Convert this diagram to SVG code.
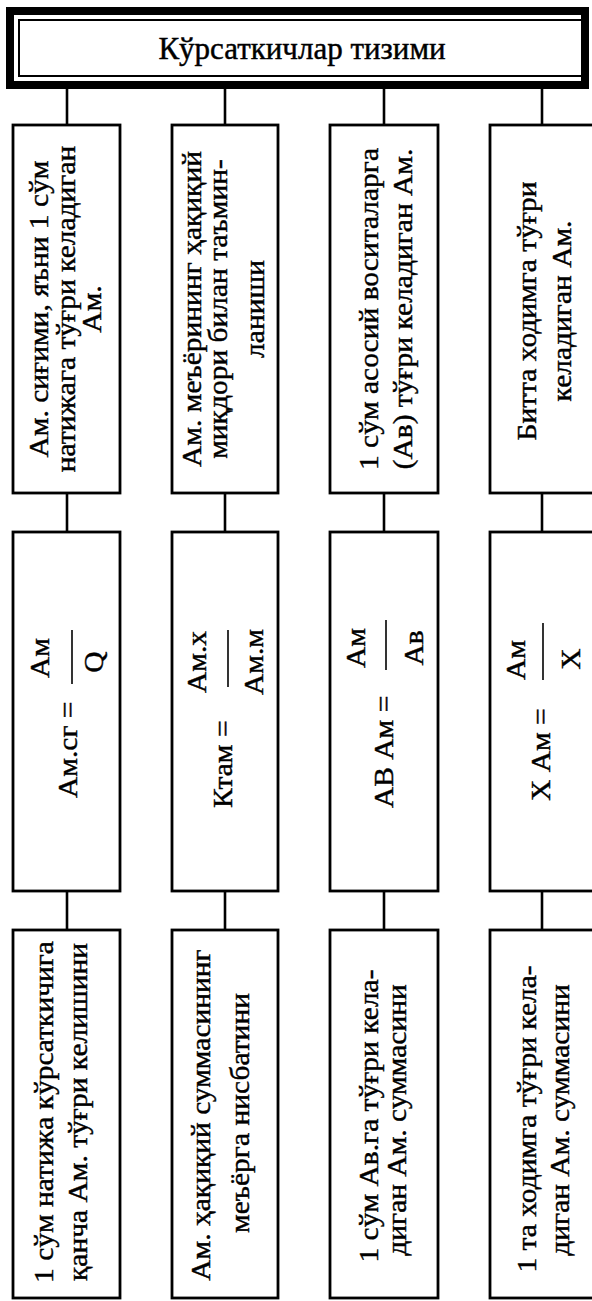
<svg xmlns="http://www.w3.org/2000/svg" width="592" height="1301" viewBox="0 0 592 1301">
<style>
.box{fill:#fff;stroke:#000;stroke-width:2.8}
.con{stroke:#000;stroke-width:2.6;fill:none}
.bar{stroke:#000;stroke-width:1.6}
.t{font-family:"Liberation Serif","Times New Roman",serif;font-size:29.5px;fill:#000;stroke:#000;stroke-width:0.45}
.m{text-anchor:middle}
.title{font-family:"Liberation Serif","Times New Roman",serif;font-size:31px;fill:#000;stroke:#000;stroke-width:0.45;text-anchor:middle}
</style>
<rect width="592" height="1301" fill="#fff"/>
<g id="connectors">
<line class="con" x1="67" y1="89" x2="67" y2="125"/>
<line class="con" x1="225" y1="89" x2="225" y2="125"/>
<line class="con" x1="384" y1="89" x2="384" y2="125"/>
<line class="con" x1="542" y1="89" x2="542" y2="125"/>
<line class="con" x1="67" y1="493" x2="67" y2="532"/>
<line class="con" x1="225" y1="493" x2="225" y2="532"/>
<line class="con" x1="384" y1="493" x2="384" y2="532"/>
<line class="con" x1="542" y1="493" x2="542" y2="532"/>
<line class="con" x1="67" y1="891" x2="67" y2="930"/>
<line class="con" x1="225" y1="891" x2="225" y2="930"/>
<line class="con" x1="384" y1="891" x2="384" y2="930"/>
<line class="con" x1="542" y1="891" x2="542" y2="930"/>
</g>
<g id="title">
<rect x="10" y="11" width="575" height="74" fill="#fff" stroke="#000" stroke-width="8"/>
<rect x="19" y="20" width="564" height="56" fill="none" stroke="#000" stroke-width="2"/>
<text class="title" x="302" y="59">Кўрсаткичлар тизими</text>
</g>
<g id="r1c1">
<rect class="box" x="13" y="125" width="107" height="368"/>
<text class="t m" transform="translate(48,309) scale(0.9,1) rotate(-90)">Ам. сиғими, яъни 1 сўм</text>
<text class="t m" transform="translate(75,309) scale(0.9,1) rotate(-90)">натижага тўғри келадиган</text>
<text class="t m" transform="translate(101,309) scale(0.9,1) rotate(-90)">Ам.</text>
</g>
<g id="r1c2">
<rect class="box" x="172" y="125" width="106" height="368"/>
<text class="t m" transform="translate(201,309) scale(0.9,1) rotate(-90)">Ам. меъёрининг ҳақиқий</text>
<text class="t m" transform="translate(227,309) scale(0.9,1) rotate(-90)">миқдори билан таъмин-</text>
<text class="t m" transform="translate(264,309) scale(0.9,1) rotate(-90)">ланиши</text>
</g>
<g id="r1c3">
<rect class="box" x="330" y="125" width="108" height="368"/>
<text class="t m" transform="translate(378,309) scale(0.9,1) rotate(-90)">1 сўм асосий воситаларга</text>
<text class="t m" transform="translate(412,309) scale(0.9,1) rotate(-90)">(Ав) тўғри келадиган Ам.</text>
</g>
<g id="r1c4">
<rect class="box" x="490" y="125" width="112" height="368"/>
<text class="t m" transform="translate(536,311) scale(0.9,1) rotate(-90)">Битта ходимга тўғри</text>
<text class="t m" transform="translate(571,311) scale(0.9,1) rotate(-90)">келадиган Ам.</text>
</g>
<g id="r2c1">
<rect class="box" x="13" y="532" width="107" height="359"/>
<text class="t" transform="translate(77,798) scale(0.9,1) rotate(-90)">Ам.сг =</text>
<text class="t m" transform="translate(49,658) scale(0.9,1) rotate(-90)">Ам</text>
<line class="bar" x1="72" y1="630" x2="72" y2="684"/>
<text class="t m" transform="translate(103,662) scale(0.9,1) rotate(-90)">Q</text>
</g>
<g id="r2c2">
<rect class="box" x="172" y="532" width="106" height="359"/>
<text class="t" transform="translate(232,808) scale(0.9,1) rotate(-90)">Ктам =</text>
<text class="t m" transform="translate(206,662) scale(0.9,1) rotate(-90)">Ам.х</text>
<line class="bar" x1="228" y1="630" x2="228" y2="687"/>
<text class="t m" transform="translate(263,662) scale(0.9,1) rotate(-90)">Ам.м</text>
</g>
<g id="r2c3">
<rect class="box" x="330" y="532" width="108" height="359"/>
<text class="t" transform="translate(393,808) scale(0.9,1) rotate(-90)">АВ Ам =</text>
<text class="t m" transform="translate(365,648) scale(0.9,1) rotate(-90)">Ам</text>
<line class="bar" x1="386" y1="620" x2="386" y2="670"/>
<text class="t m" transform="translate(423,648) scale(0.9,1) rotate(-90)">Ав</text>
</g>
<g id="r2c4">
<rect class="box" x="490" y="532" width="112" height="359"/>
<text class="t" transform="translate(550,801) scale(0.9,1) rotate(-90)">Х Ам =</text>
<text class="t m" transform="translate(525,660) scale(0.9,1) rotate(-90)">Ам</text>
<line class="bar" x1="543" y1="623" x2="543" y2="680"/>
<text class="t m" transform="translate(580,659) scale(0.9,1) rotate(-90)">Х</text>
</g>
<g id="r3c1">
<rect class="box" x="13" y="930" width="107" height="368"/>
<text class="t m" transform="translate(53,1112) scale(0.9,1) rotate(-90)">1 сўм натижа кўрсаткичига</text>
<text class="t m" transform="translate(87,1112) scale(0.9,1) rotate(-90)">қанча Ам. тўғри келишини</text>
</g>
<g id="r3c2">
<rect class="box" x="172" y="930" width="106" height="368"/>
<text class="t m" transform="translate(210,1115) scale(0.9,1) rotate(-90)">Ам. ҳақиқий суммасининг</text>
<text class="t m" transform="translate(249,1113) scale(0.9,1) rotate(-90)">меъёрга нисбатини</text>
</g>
<g id="r3c3">
<rect class="box" x="330" y="930" width="108" height="368"/>
<text class="t m" transform="translate(378,1116) scale(0.9,1) rotate(-90)">1 сўм Ав.га тўғри кела-</text>
<text class="t m" transform="translate(406,1120) scale(0.9,1) rotate(-90)">диган Ам. суммасини</text>
</g>
<g id="r3c4">
<rect class="box" x="490" y="930" width="112" height="368"/>
<text class="t m" transform="translate(536,1119) scale(0.9,1) rotate(-90)">1 та ходимга тўғри кела-</text>
<text class="t m" transform="translate(569,1120) scale(0.9,1) rotate(-90)">диган Ам. суммасини</text>
</g>
</svg>
